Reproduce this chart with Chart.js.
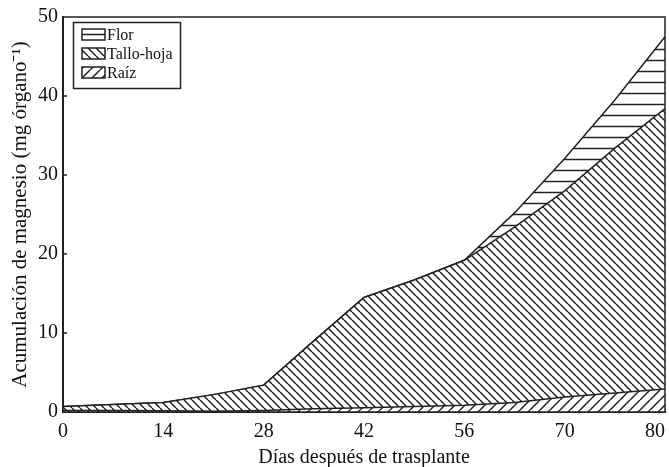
<!DOCTYPE html>
<html>
<head>
<meta charset="utf-8">
<script src="https://cdn.jsdelivr.net/npm/chart.js@4.4.1/dist/chart.umd.min.js"></script>
<style>
  html, body { margin: 0; padding: 0; background: #fff; }
</style>
</head>
<body>
<canvas id="chart" width="669" height="467"></canvas>
<script>
// sampling days (evenly spaced on the axis), labelled ticks, series values (mg)
const days = ['0', '7', '14', '21', '28', '35', '42', '49', '56', '63', '70', '75', '80'];
const tickDays = ['0', '14', '28', '42', '56', '70', '80'];
const raiz = [0.2, 0.2, 0.15, 0.1, 0.2, 0.4, 0.55, 0.7, 0.85, 1.2, 1.9, 2.4, 2.9];
const talloHoja = [0.5, 0.75, 1.05, 2.1, 3.2, 8.6, 13.95, 16.0, 18.35, 22.2, 26.1, 31.0, 35.5];
const flor = [0, 0, 0, 0, 0, 0, 0, 0, 0, 1.8, 4.1, 6.1, 9.1];

const INK = "#222";
const FONT = "'Liberation Serif', 'Times New Roman', serif";

function hatch(kind, size) {
  const c = document.createElement("canvas");
  c.width = size;
  c.height = size;
  const g = c.getContext("2d");
  g.fillStyle = "#fff";
  g.fillRect(0, 0, size, size);
  g.strokeStyle = INK;
  g.lineWidth = 1.5;
  g.beginPath();
  if (kind === "h") {
    g.moveTo(0, size / 2);
    g.lineTo(size, size / 2);
  } else {
    for (let k = -1; k <= 1; k++) {
      if (kind === "/") {
        g.moveTo(k * size, size);
        g.lineTo(k * size + size, 0);
      } else {
        g.moveTo(k * size, 0);
        g.lineTo(k * size + size, size);
      }
    }
  }
  g.stroke();
  return g.createPattern(c, "repeat");
}

const ctx = document.getElementById("chart").getContext("2d");
const patRaiz = hatch("/", 10);
const patTallo = hatch("\\", 8);
const patFlor = hatch("h", 11);

/* =========================
   FRAME + INNER TICKS + LEGEND
========================= */
const framePlugin = {
  id: "frame",
  afterDraw(chart) {
    const { ctx, chartArea: a, scales } = chart;
    ctx.save();
    ctx.strokeStyle = INK;
    ctx.lineWidth = 1.5;
    ctx.strokeRect(a.left, a.top, a.right - a.left, a.bottom - a.top);

    // small inward ticks on y axis
    ctx.beginPath();
    for (let v = 10; v < 50; v += 10) {
      const y = scales.y.getPixelForValue(v);
      ctx.moveTo(a.left, y);
      ctx.lineTo(a.left + 4, y);
    }
    ctx.stroke();

    // legend box
    const bx = 73.5, by = 22.5, bw = 107, bh = 66;
    ctx.fillStyle = "#fff";
    ctx.fillRect(bx, by, bw, bh);
    ctx.strokeRect(bx, by, bw, bh);

    const items = [
      { label: "Flor", fill: null, y: 29 },
      { label: "Tallo-hoja", fill: patTallo, y: 48 },
      { label: "Raíz", fill: patRaiz, y: 67 }
    ];
    ctx.font = "16px " + FONT;
    ctx.textBaseline = "middle";
    items.forEach(it => {
      const sx = 82, sw = 23, sh = 11;
      ctx.fillStyle = "#fff";
      ctx.fillRect(sx, it.y, sw, sh);
      if (it.fill) {
        ctx.fillStyle = it.fill;
        ctx.fillRect(sx, it.y, sw, sh);
      } else {
        ctx.beginPath();
        ctx.moveTo(sx, it.y + sh / 2);
        ctx.lineTo(sx + sw, it.y + sh / 2);
        ctx.stroke();
      }
      ctx.lineWidth = 1.5;
      ctx.strokeRect(sx, it.y, sw, sh);
      ctx.fillStyle = "#111";
      ctx.fillText(it.label, 107, it.y + sh / 2 + 1);
    });
    ctx.restore();
  }
};

function areaSet(label, data, pattern, fill) {
  return {
    label,
    data,
    backgroundColor: pattern,
    borderColor: INK,
    borderWidth: 1.5,
    pointRadius: 0,
    tension: 0,
    fill
  };
}

new Chart(ctx, {
  type: "line",
  data: {
    labels: days,
    datasets: [
      areaSet("Raíz", raiz, patRaiz, "origin"),
      areaSet("Tallo-hoja", talloHoja, patTallo, "-1"),
      areaSet("Flor", flor, patFlor, "-1")
    ]
  },
  options: {
    responsive: false,
    animation: false,
    devicePixelRatio: 1,
    layout: { padding: { top: 13, right: 4, left: 0, bottom: 0 } },
    plugins: {
      legend: { display: false },
      tooltip: { enabled: false }
    },
    scales: {
      x: {
        type: "category",
        offset: false,
        grid: { display: false, drawTicks: false },
        border: { display: true, color: INK, width: 2 },
        afterFit(scale) {
          scale.height = 55;
          scale.paddingRight = 0;
          scale.paddingLeft = 0;
        },
        ticks: {
          autoSkip: false,
          maxRotation: 0,
          color: "#111",
          padding: 8,
          font: { family: FONT, size: 20 },
          callback(v, i) {
            const d = days[i];
            if (!tickDays.includes(d)) return "";
            return d === "80" ? "80    " : d;
          }
        },
        title: {
          display: true,
          text: "Días después de trasplante",
          color: "#111",
          font: { family: FONT, size: 20 },
          padding: { top: 3, bottom: -3 }
        }
      },
      y: {
        stacked: true,
        min: 0,
        max: 50,
        grid: { display: false, drawTicks: false },
        border: { display: true, color: INK, width: 2 },
        afterFit(scale) {
          scale.width = 63;
        },
        ticks: {
          stepSize: 10,
          color: "#111",
          padding: 5,
          font: { family: FONT, size: 20 }
        },
        title: {
          display: true,
          text: "Acumulación de magnesio (mg órgano⁻¹)",
          color: "#111",
          font: { family: FONT, size: 21 },
          padding: { top: 8, bottom: 0 }
        }
      }
    }
  },
  plugins: [framePlugin]
});
</script>
</body>
</html>
